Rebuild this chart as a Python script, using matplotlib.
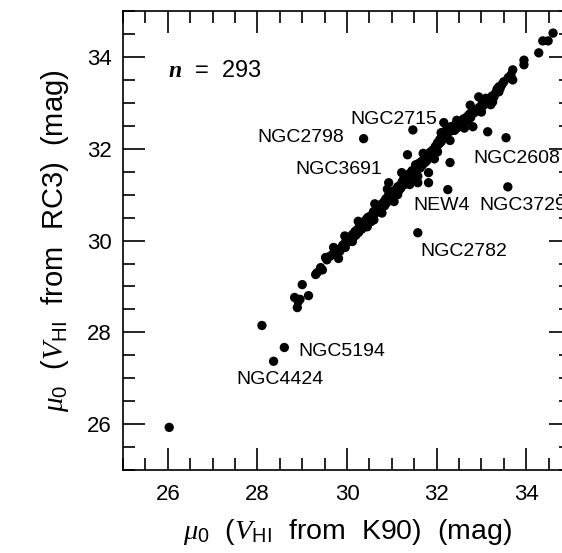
import matplotlib
matplotlib.use("Agg")
import matplotlib.pyplot as plt
from matplotlib.ticker import MultipleLocator

plt.rcParams['font.family'] = ['Liberation Sans', 'DejaVu Sans']
plt.rcParams['mathtext.fontset'] = 'custom'
plt.rcParams['mathtext.rm'] = 'Liberation Sans'
plt.rcParams['mathtext.it'] = 'Liberation Serif:italic'
plt.rcParams['mathtext.bf'] = 'Liberation Serif:italic:bold'

# mu_0 from K90 (x) and from RC3 (y)
k90 = [28.83, 28.89, 28.91, 29.00, 29.14, 28.95, 29.30, 29.33, 29.41, 29.45,
       29.52, 29.55, 29.62, 29.68, 29.74, 29.81, 29.79, 29.84, 29.90, 29.92, 29.96, 29.98,
       30.03, 30.07, 30.12, 30.12, 30.15, 30.18, 30.20, 30.23, 30.26, 30.28, 30.30, 30.33,
       30.35, 30.37, 30.40, 30.42, 30.46, 30.48, 30.50, 30.53,
       30.55, 30.58, 30.59, 30.62, 30.65, 30.68, 30.70, 30.72, 30.75, 30.77, 30.79, 30.82,
       30.84, 30.86, 30.88, 30.91, 30.93, 30.95, 30.97, 30.99,
       31.02, 31.04, 31.07, 31.10, 31.13, 31.15, 31.18, 31.20, 31.23, 31.26, 31.28, 31.30,
       31.33, 31.35, 31.38, 31.40, 31.43, 31.45, 31.48, 31.50,
       31.53, 31.55, 31.58, 31.60, 31.63, 31.66, 31.68, 31.71, 31.74, 31.76, 31.78, 31.80,
       31.83, 31.85, 31.87, 31.90, 31.92, 31.95, 31.97, 32.00,
       32.02, 32.02, 32.05, 32.07, 32.10, 32.12, 32.14, 32.16, 32.17, 32.20, 32.22, 32.25,
       32.27, 32.30, 32.32, 32.35, 32.38, 32.40, 32.43, 32.45, 32.47, 32.50,
       32.53, 32.55, 32.58, 32.60, 32.65, 32.68, 32.70, 32.73, 32.76, 32.78, 32.81, 32.83,
       32.86, 32.90, 32.94, 32.95, 32.99,
       33.02, 33.05, 33.08, 33.10, 33.14, 33.18, 33.21, 33.24, 33.28, 33.32, 33.35, 33.39,
       33.39, 33.42, 33.46, 33.50,
       33.60, 33.66, 33.70, 33.70, 33.95, 33.95, 34.28, 34.37, 34.49, 34.60,
       30.25, 30.45, 30.62, 30.78, 30.90, 31.05, 31.22, 31.40, 31.58, 31.70, 31.95, 32.10,
       32.30, 32.45, 32.62, 32.75, 33.00, 33.25, 31.13, 30.60, 29.70, 29.95,
       30.93, 31.58, 31.82, 31.82, 32.30, 33.14, 28.10, 26.03]
rc3 = [28.76, 28.54, 28.67, 29.04, 28.80, 28.72, 29.26, 29.30, 29.41, 29.36,
       29.63, 29.58, 29.66, 29.70, 29.72, 29.61, 29.80, 29.77, 29.89, 29.91, 29.85, 30.00,
       30.02, 29.98, 29.98, 30.13, 30.08, 30.20, 30.12, 30.24, 30.18, 30.30, 30.30, 30.25,
       30.38, 30.35, 30.32, 30.45, 30.50, 30.40, 30.52, 30.41,
       30.55, 30.50, 30.63, 30.60, 30.68, 30.62, 30.72, 30.66, 30.78, 30.70, 30.78, 30.84,
       30.76, 30.90, 30.82, 30.96, 30.88, 31.00, 30.92, 31.04,
       31.00, 31.08, 31.02, 31.12, 31.17, 31.08, 31.20, 31.14, 31.28, 31.33, 31.22, 31.36,
       31.30, 31.43, 31.38, 31.46, 31.36, 31.52, 31.45, 31.55,
       31.65, 31.52, 31.60, 31.68, 31.58, 31.72, 31.64, 31.76, 31.70, 31.82, 31.74, 31.88,
       31.80, 31.92, 31.87, 31.96, 31.90, 32.00, 32.05, 31.97,
       31.93, 32.13, 32.10, 32.20, 32.15, 32.28, 32.22, 32.57, 32.35, 32.30, 32.42, 32.35,
       32.45, 32.38, 32.48, 32.42, 32.50, 32.40, 32.52, 32.45, 32.48, 32.55,
       32.50, 32.60, 32.55, 32.65, 32.59, 32.70, 32.62, 32.75, 32.68, 32.80, 32.48, 32.78,
       32.85, 32.82, 33.13, 32.90, 32.85,
       33.00, 32.95, 33.05, 33.10, 33.07, 33.02, 32.96, 33.15, 33.13, 33.22, 33.30, 33.24,
       33.35, 33.32, 33.40, 33.46,
       33.55, 33.61, 33.72, 33.50, 33.93, 33.83, 34.09, 34.35, 34.35, 34.52,
       30.42, 30.30, 30.80, 30.60, 31.12, 30.85, 31.48, 31.22, 31.40, 31.90, 31.78, 32.35,
       32.18, 32.62, 32.45, 32.95, 32.80, 33.02, 31.00, 30.45, 29.85, 30.10,
       31.26, 31.26, 31.26, 31.48, 31.70, 32.37, 28.15, 25.93]

# named galaxies: point, label position
names = ['NGC2798', 'NGC2715', 'NGC3691', 'NGC2608', 'NGC3729',
         'NEW4', 'NGC2782', 'NGC5194', 'NGC4424']
name_x = [30.37, 31.47, 31.35, 33.55, 33.59, 32.25, 31.58, 28.60, 28.36]
name_y = [32.22, 32.41, 31.87, 32.24, 31.17, 31.11, 30.17, 27.67, 27.37]
lab_x = [28.00, 30.08, 28.85, 32.83, 32.96, 31.49, 31.64, 28.91, 27.53]
lab_y = [32.15, 32.54, 31.46, 31.70, 30.67, 30.67, 29.67, 27.48, 26.87]

fig = plt.figure(figsize=(5.62, 5.53), dpi=100)
ax = fig.add_axes([0.219, 0.150, 0.797, 0.830])

ax.scatter(k90, rc3, s=45, c='black', edgecolors='none')
ax.scatter(name_x, name_y, s=45, c='black', edgecolors='none')
for nm, tx, ty in zip(names, lab_x, lab_y):
    ax.text(tx, ty, nm, fontsize=14, ha='left', va='baseline')

ax.text(26.0, 33.57, r'$\mathbf{n}$  =  293', fontsize=17, ha='left', va='baseline')

ax.set_xlim(25, 35)
ax.set_ylim(25, 35)
ax.xaxis.set_minor_locator(MultipleLocator(0.5))
ax.yaxis.set_minor_locator(MultipleLocator(0.5))
ax.set_xticks([26, 28, 30, 32, 34])
ax.set_yticks([26, 28, 30, 32, 34])
ax.tick_params(which='both', direction='in', top=True, right=True, width=1.2, labelsize=16)
ax.tick_params(which='major', length=16)
ax.tick_params(which='minor', length=8.5)
ax.tick_params(axis='x', pad=10)
ax.tick_params(axis='y', pad=8)
for sp in ax.spines.values():
    sp.set_linewidth(1.2)

ax.set_xlabel(r'$\mu_{\mathrm{0}}$  ($V_{\mathrm{HI}}$  from  K90)  (mag)', fontsize=20.5, labelpad=9)
ax.set_ylabel(r'$\mu_{\mathrm{0}}$  ($V_{\mathrm{HI}}$  from  RC3)  (mag)', fontsize=21, labelpad=12)

fig.savefig('out.png', dpi=100)
